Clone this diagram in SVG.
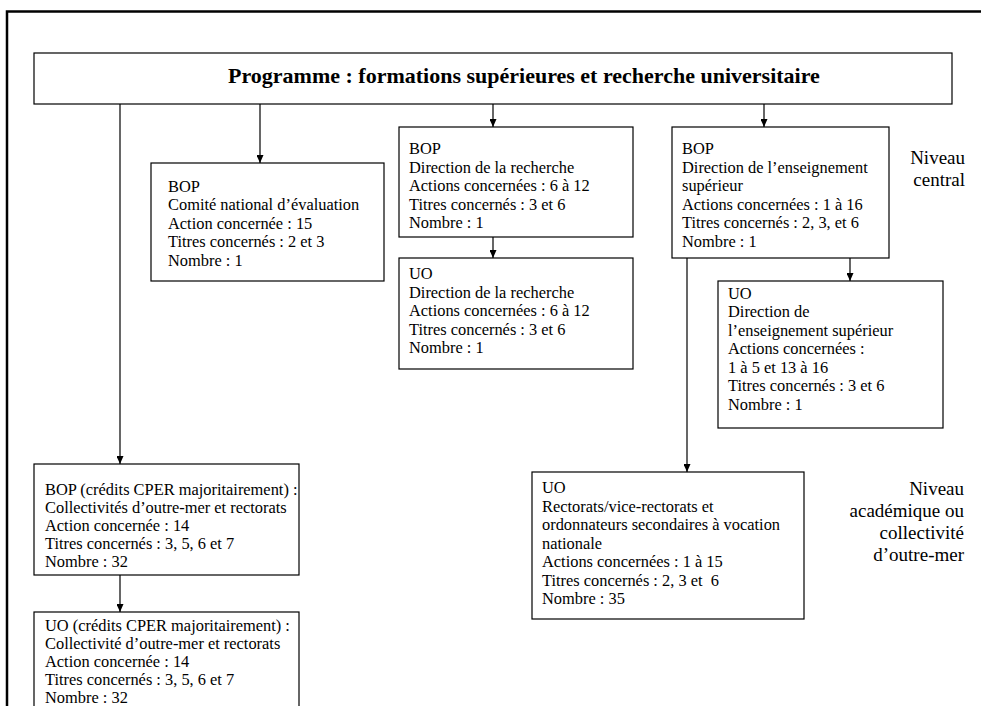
<svg xmlns="http://www.w3.org/2000/svg" width="981" height="706" viewBox="0 0 981 706">
<defs>
<marker id="ah" viewBox="0 0 8 7" refX="8" refY="3.5" markerWidth="8" markerHeight="7" markerUnits="userSpaceOnUse" orient="auto">
<path d="M0,0 L8,3.5 L0,7 z" fill="#000"/>
</marker>
<style>
.box{fill:#fff;stroke:#000;stroke-width:1.2}
.t{font-family:"Liberation Serif","Times New Roman",serif;font-size:16.4px;fill:#000}
.title{font-family:"Liberation Serif","Times New Roman",serif;font-size:22px;font-weight:bold;fill:#000}
.lvl{font-family:"Liberation Serif","Times New Roman",serif;font-size:19px;fill:#000;text-anchor:end}
.c{fill:none;stroke:#000;stroke-width:1.2;marker-end:url(#ah)}
</style>
</defs>
<rect width="981" height="706" fill="#fff"/>
<path d="M7,706 V11.5 H981" fill="none" stroke="#000" stroke-width="2.5"/>

<g id="connectors">
<line class="c" x1="120" y1="104" x2="120" y2="464"/>
<line class="c" x1="260" y1="104" x2="260" y2="163"/>
<line class="c" x1="493" y1="104" x2="493" y2="127"/>
<line class="c" x1="764" y1="104" x2="764" y2="127"/>
<line class="c" x1="493" y1="237" x2="493" y2="258"/>
<line class="c" x1="850" y1="258" x2="850" y2="281"/>
<line class="c" x1="687" y1="258" x2="687" y2="472"/>
<line class="c" x1="120" y1="575" x2="120" y2="612"/>
</g>

<g id="programme">
<rect class="box" x="34" y="53" width="918" height="51"/>
<text class="title" x="228" y="83">Programme : formations supérieures et recherche universitaire</text>
</g>

<g id="bop-cne">
<rect class="box" x="151" y="163" width="233" height="118"/>
<text class="t" x="168" y="191.5">BOP</text>
<text class="t" x="168" y="210">Comité national d’évaluation</text>
<text class="t" x="168" y="228.5">Action concernée : 15</text>
<text class="t" x="168" y="247">Titres concernés : 2 et 3</text>
<text class="t" x="168" y="265.5">Nombre : 1</text>
</g>

<g id="bop-recherche">
<rect class="box" x="399" y="127" width="234" height="110"/>
<text class="t" x="409" y="154">BOP</text>
<text class="t" x="409" y="172.5">Direction de la recherche</text>
<text class="t" x="409" y="191">Actions concernées : 6 à 12</text>
<text class="t" x="409" y="209.5">Titres concernés : 3 et 6</text>
<text class="t" x="409" y="228">Nombre : 1</text>
</g>

<g id="uo-recherche">
<rect class="box" x="399" y="258" width="234" height="111"/>
<text class="t" x="409" y="279">UO</text>
<text class="t" x="409" y="297.5">Direction de la recherche</text>
<text class="t" x="409" y="316">Actions concernées : 6 à 12</text>
<text class="t" x="409" y="334.5">Titres concernés : 3 et 6</text>
<text class="t" x="409" y="353">Nombre : 1</text>
</g>

<g id="bop-enseignement">
<rect class="box" x="672" y="127" width="217" height="131"/>
<text class="t" x="682" y="154">BOP</text>
<text class="t" x="682" y="172.5">Direction de l’enseignement</text>
<text class="t" x="682" y="191">supérieur</text>
<text class="t" x="682" y="209.5">Actions concernées : 1 à 16</text>
<text class="t" x="682" y="228">Titres concernés : 2, 3, et 6</text>
<text class="t" x="682" y="246.5">Nombre : 1</text>
</g>

<g id="uo-enseignement">
<rect class="box" x="718" y="281" width="225" height="147"/>
<text class="t" x="728" y="298.5">UO</text>
<text class="t" x="728" y="317">Direction de</text>
<text class="t" x="728" y="335.5">l’enseignement supérieur</text>
<text class="t" x="728" y="354">Actions concernées :</text>
<text class="t" x="728" y="372.5">1 à 5 et 13 à 16</text>
<text class="t" x="728" y="391">Titres concernés : 3 et 6</text>
<text class="t" x="728" y="409.5">Nombre : 1</text>
</g>

<g id="uo-rectorats">
<rect class="box" x="532" y="472" width="272" height="147"/>
<text class="t" x="542" y="493">UO</text>
<text class="t" x="542" y="511.5">Rectorats/vice-rectorats et</text>
<text class="t" x="542" y="530">ordonnateurs secondaires à vocation</text>
<text class="t" x="542" y="548.5">nationale</text>
<text class="t" x="542" y="567">Actions concernées : 1 à 15</text>
<text class="t" x="542" y="585.5" xml:space="preserve">Titres concernés : 2, 3 et  6</text>
<text class="t" x="542" y="604">Nombre : 35</text>
</g>

<g id="bop-cper">
<rect class="box" x="34" y="464" width="265" height="111"/>
<text class="t" x="45" y="495">BOP (crédits CPER majoritairement) :</text>
<text class="t" x="45" y="513">Collectivités d’outre-mer et rectorats</text>
<text class="t" x="45" y="531">Action concernée : 14</text>
<text class="t" x="45" y="549">Titres concernés : 3, 5, 6 et 7</text>
<text class="t" x="45" y="567">Nombre : 32</text>
</g>

<g id="uo-cper">
<rect class="box" x="34" y="612" width="265" height="110"/>
<text class="t" x="45" y="631">UO (crédits CPER majoritairement) :</text>
<text class="t" x="45" y="649">Collectivité d’outre-mer et rectorats</text>
<text class="t" x="45" y="667">Action concernée : 14</text>
<text class="t" x="45" y="685">Titres concernés : 3, 5, 6 et 7</text>
<text class="t" x="45" y="703">Nombre : 32</text>
</g>

<g id="niveau-central">
<text class="lvl" x="965" y="164">Niveau</text>
<text class="lvl" x="965" y="186">central</text>
</g>

<g id="niveau-academique">
<text class="lvl" x="964" y="495">Niveau</text>
<text class="lvl" x="964" y="517">académique ou</text>
<text class="lvl" x="964" y="539">collectivité</text>
<text class="lvl" x="964" y="561">d’outre-mer</text>
</g>
</svg>
